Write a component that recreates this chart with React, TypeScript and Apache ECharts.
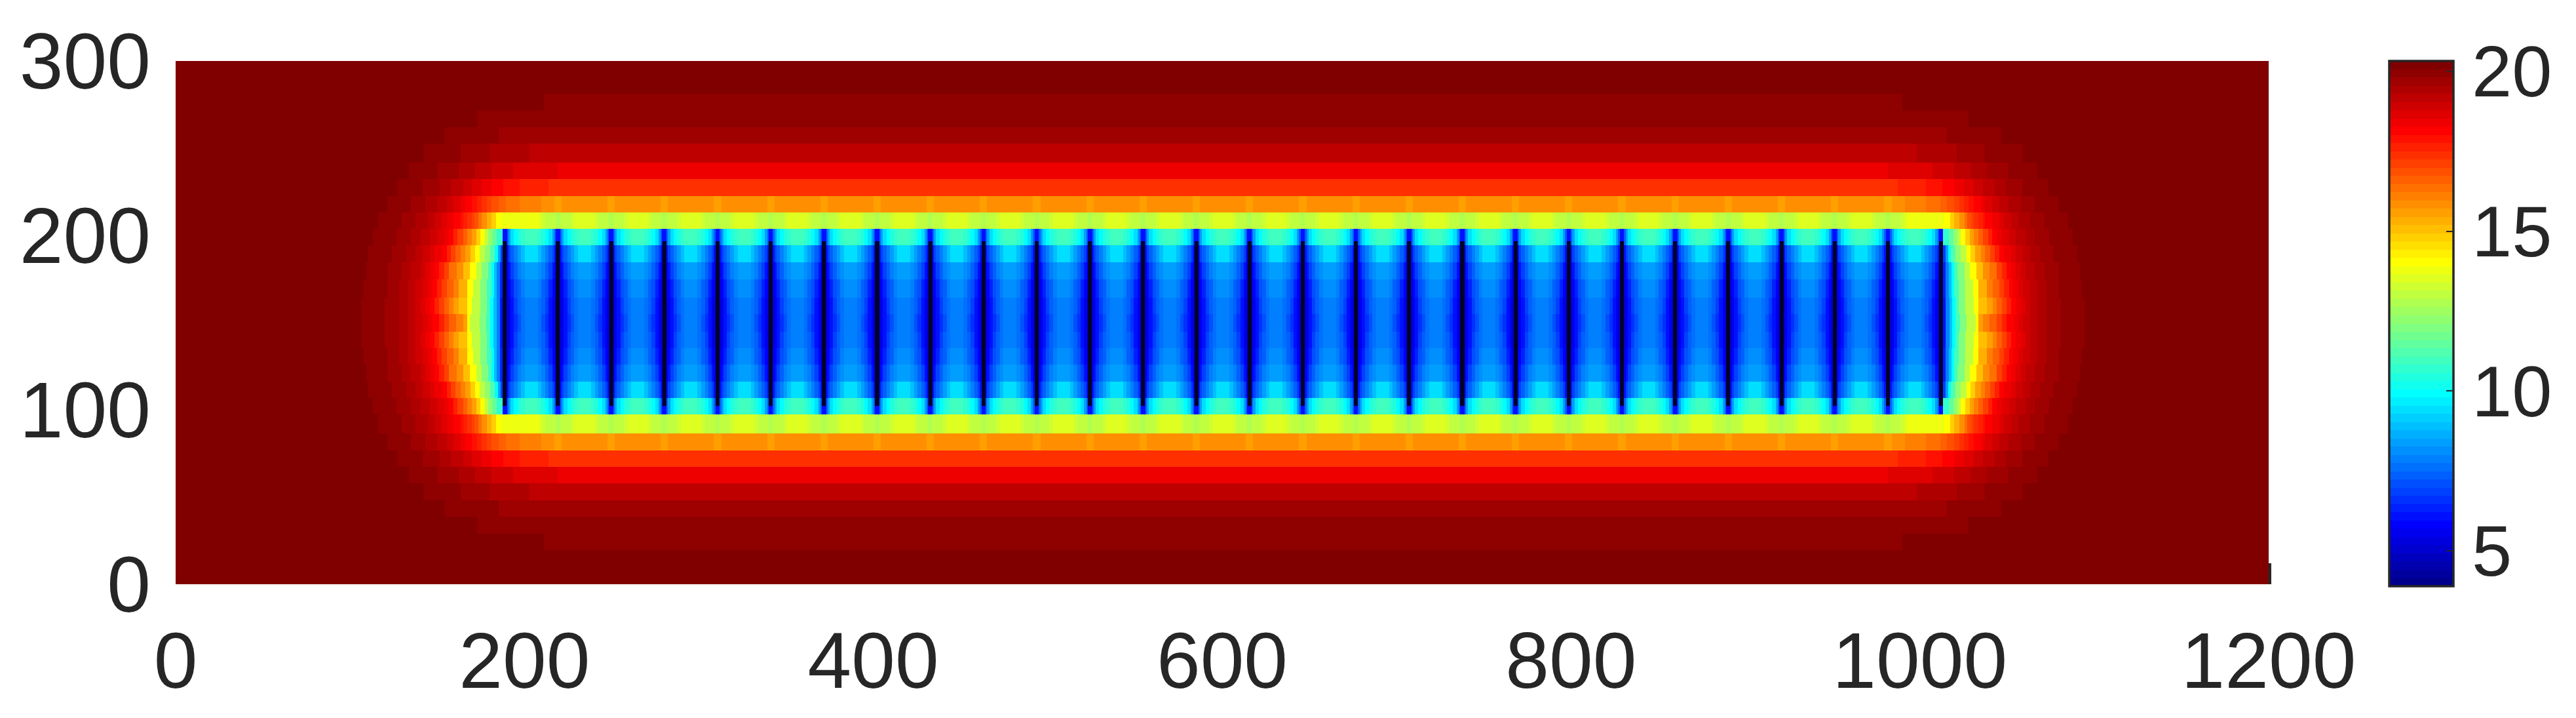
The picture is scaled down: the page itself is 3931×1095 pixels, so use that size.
import React, { useEffect, useRef } from "react";
import * as echarts from "echarts";

// Colour-scale limits and axis ticks
const valueMin = 3.89;
const valueMax = 20.32;
const xTicks = [0, 200, 400, 600, 800, 1000, 1200];
const yTicks = [0, 100, 200, 300];
const colorbarTicks = [5, 10, 15, 20];

// Horizontal row edges of the mesh (axis units, bottom to top)
const yEdges = [
  0, 9.8, 19.6, 29, 38.8, 48.2, 58, 67.4, 76.8, 86.6, 97.5, 106.9, 116.3, 126.1, 135.5, 144.9,
  154.7, 164.1, 175, 184.4, 194.2, 203.6, 213, 222.5, 232.2, 241.6, 252.6, 262, 271.8, 281.2, 290.6, 300,
];

// Plate centres (the dark vertical stripes)
const finCenters = [
  188.7, 219.2, 249.7, 280.2, 310.7, 341.2, 371.7, 402.2, 432.7, 463.2, 493.7, 524.2, 554.7, 585.2,
  615.7, 646.2, 676.7, 707.2, 737.7, 768.2, 798.7, 829.2, 859.7, 890.2, 920.7, 951.2, 981.7, 1012.2,
];
const finSpan = [102.4, 196.8];
const finHalfWidth = 1.15;
const mirrorSum = 1200.9;

// Cell edges of one half-period, measured from a plate centre
const periodEdges = [0, 1.25, 2.1, 3.3, 5.3, 7.3, 9.4, 11.5, 15.25];

// Left-end bands per row, outermost row first: [band's right edge, value]
const rowBands: number[][][] = [
  [],
  [],
  [[211, 20.3]],
  [[173, 20.3]],
  [[154.3, 20.3], [185.2, 20.06]],
  [[141.9, 20.3], [163.6, 20.06], [179.8, 19.8], [202.8, 19.55]],
  [[133.7, 20.3], [150, 20.06], [162.3, 19.8], [171.7, 19.55], [181.1, 19.29], [193.6, 19.03], [219.2, 18.78]],
  [[127, 20.3], [141.8, 20.06], [151.4, 19.8], [157.9, 19.55], [164.8, 19.29], [169.8, 19.03], [175.6, 18.78], [181.1, 18.5], [188, 18.27], [197.4, 18], [213.6, 17.75]],
  [[121.3, 20.3], [134.9, 20.06], [143.1, 19.8], [150, 19.55], [155.4, 19.29], [159.4, 19.03], [163.6, 18.78], [166, 18.5], [170, 18.27], [172.9, 18], [175.6, 17.75], [178.3, 17.5], [181.1, 17.24], [185.2, 17], [189.2, 16.72], [197.4, 16.46], [209.6, 16.2]],
  [[116, 20.3], [129.5, 20.06], [137.6, 19.8], [144.5, 19.55], [148.5, 19.29], [152.5, 19.03], [155.4, 18.78], [159.4, 18.5], [163.4, 18.27], [164.8, 18], [167.3, 17.75], [169.8, 17.5], [171.4, 17.24], [173.6, 17], [175.4, 16.46], [178.3, 15.96], [181.1, 15.44], [183.6, 14.92], [186.7, 14.15], [208.4, 13.9]],
  [[113.2, 20.3], [126.7, 20.06], [134.9, 19.8], [140.4, 19.55], [145.8, 19.29], [149.8, 19.03], [153.9, 18.78], [156.7, 18.5], [159.4, 18.27], [161.7, 17.75], [164.8, 17.24], [167.3, 16.72], [169.8, 16.2], [172.3, 15.7], [174.8, 14.92], [177.3, 14.15], [179.2, 13.13], [181.7, 12.4], [184.2, 11.6], [187.45, 10.8]],
  [[110.6, 20.3], [124.1, 20.06], [132.2, 19.8], [137.6, 19.55], [141.8, 19.29], [145.8, 19.03], [148.5, 18.78], [152.5, 18.5], [155.4, 18.27], [157.9, 17.75], [160.4, 17.24], [163.6, 16.72], [166, 16.2], [169.2, 15.7], [171.7, 14.92], [174.2, 14.15], [177.3, 13.13], [180.5, 12.4], [183, 11.3], [184.8, 10.05], [186.2, 8.5], [187.45, 7]],
  [[109.2, 20.3], [121.3, 20.06], [129.5, 19.8], [134.9, 19.55], [140.4, 19.29], [143.1, 19.03], [145.8, 18.78], [148.5, 18.5], [151, 18.27], [153.9, 17.75], [156.7, 17.24], [161, 16.46], [164.8, 15.96], [168.6, 15.18], [172.3, 14.15], [175.4, 13.13], [179.2, 12.1], [181.1, 11.07], [182.6, 10.05], [184.2, 9.02], [186, 7.99], [187.45, 6.5]],
  [[107.8, 20.3], [121.3, 20.06], [128.1, 19.8], [133.5, 19.55], [137.6, 19.29], [141.8, 19.03], [144.5, 18.78], [147.1, 18.5], [149.8, 18.27], [152.5, 17.75], [155.4, 17.24], [159.2, 16.72], [162.3, 16.2], [167.3, 15.44], [170.4, 14.15], [174.8, 13.13], [178.6, 12.1], [181.1, 11.07], [182.6, 10.05], [184.2, 9.02], [186, 7.99], [187.45, 6.4]],
  [[106.4, 20.3], [120, 20.06], [128.1, 19.8], [133.5, 19.55], [137.6, 19.29], [140.4, 19.03], [143.1, 18.78], [145.8, 18.5], [148.5, 18.27], [151, 17.75], [153.9, 17.24], [156.7, 16.72], [159.2, 16.2], [162.3, 15.7], [167.3, 15.18], [169.8, 14.15], [174.8, 13.13], [178.6, 12.1], [180.5, 11.07], [182.3, 10.05], [184, 9.02], [186, 7.99], [187.45, 6.3]],
  [[106.4, 20.3], [120, 20.06], [128.1, 19.8], [133.5, 19.55], [137.6, 19.29], [141.8, 19.03], [144.5, 18.78], [147.1, 18.5], [151, 18.27], [153.9, 17.75], [156.7, 17.24], [160.8, 16.72], [164.8, 16.2], [167.3, 15.7], [168.8, 14.15], [174.2, 13.13], [178, 12.1], [180.5, 11.07], [182.3, 10.05], [184, 9.02], [186, 7.99], [187.45, 6.3]],
];

// Values along the middle of each row: one value, or one half-period of cells
const rowMiddle: (number | number[])[] = [
  20.3,
  20.3,
  20.06,
  20.06,
  19.8,
  19.29,
  18.5,
  17.5,
  [15.7, 15.7, 15.96, 15.96, 15.96, 15.96, 15.96, 15.96],
  [13, 13.1, 13.13, 13.13, 13.25, 13.4, 13.65, 13.65],
  [6.1, 7.5, 8.5, 9.5, 10.05, 10.55, 10.85, 11.1],
  [5, 6.2, 7, 7.5, 8, 8.5, 9, 9.55],
  [5, 5.7, 6.3, 6.9, 7.5, 8, 8.25, 8.6],
  [5, 5.5, 5.9, 6.5, 7.1, 7.6, 8, 8.25],
  [5, 5.3, 5.8, 6.3, 6.9, 7.4, 7.8, 8],
  [5, 5.2, 5.6, 6.1, 6.7, 7.3, 7.7, 7.9],
];

const LEVELS = 64;
const clamp01 = (v: number) => Math.max(0, Math.min(1, v));
function jetColor(value: number): string {
  const level = Math.round(((value - valueMin) / (valueMax - valueMin)) * LEVELS);
  const t = Math.max(1, Math.min(LEVELS, level)) / LEVELS;
  const r = clamp01(Math.min(4 * t - 1.5, -4 * t + 4.5));
  const g = clamp01(Math.min(4 * t - 0.5, -4 * t + 3.5));
  const b = clamp01(Math.min(4 * t + 0.5, -4 * t + 2.5));
  return `rgb(${Math.round(r * 255)},${Math.round(g * 255)},${Math.round(b * 255)})`;
}

function buildCells(): number[][] {
  const cells: number[][] = [];
  for (let i = 0; i < yEdges.length - 1; i++) {
    const k = i <= 15 ? i : 30 - i;
    const y0 = yEdges[i];
    const y1 = yEdges[i + 1];
    let prev = 0;
    for (const [xEnd, v] of rowBands[k]) {
      cells.push([prev, xEnd, y0, y1, v]);
      cells.push([mirrorSum - xEnd, mirrorSum - prev, y0, y1, v]);
      prev = xEnd;
    }
    const from = prev;
    const to = mirrorSum - prev;
    const middle = rowMiddle[k];
    if (typeof middle === "number") {
      cells.push([from, to, y0, y1, middle]);
    } else {
      for (const c of finCenters) {
        middle.forEach((v, j) => {
          const spans = [
            [c + periodEdges[j], c + periodEdges[j + 1]],
            [c - periodEdges[j + 1], c - periodEdges[j]],
          ];
          for (const [a, b] of spans) {
            const x0 = Math.max(a, from);
            const x1 = Math.min(b, to);
            if (x1 > x0) cells.push([x0, x1, y0, y1, v]);
          }
        });
      }
    }
  }
  return cells;
}

function rectItem(params: any, api: any, fill: string) {
  const a = api.coord([api.value(0), api.value(2)]);
  const b = api.coord([api.value(1), api.value(3)]);
  const x = Math.round(Math.min(a[0], b[0]));
  const y = Math.round(Math.min(a[1], b[1]));
  const w = Math.round(Math.max(a[0], b[0])) - x;
  const h = Math.round(Math.max(a[1], b[1])) - y;
  return { type: "rect", shape: { x, y, width: w, height: h }, style: { fill } };
}

export default function App() {
  const ref = useRef<HTMLDivElement>(null);
  useEffect(() => {
    if (!ref.current) return;
    const chart = echarts.init(ref.current, undefined, { renderer: "svg" });
    const textColor = "#262626";
    const fontFamily = "Liberation Sans";
    const mainLabel = { color: textColor, fontFamily, fontSize: 120 };
    const barLabel = { color: textColor, fontFamily, fontSize: 110 };
    const plain = (v: number) => String(v);

    const finCells = finCenters.map((c) => [c - finHalfWidth, c + finHalfWidth, finSpan[0], finSpan[1], 0]);
    const barStep = (valueMax - valueMin) / LEVELS;
    const barCells: number[][] = [];
    for (let i = 0; i < LEVELS; i++) {
      const lo = valueMin + i * barStep;
      barCells.push([0, 1, lo, lo + barStep, lo + barStep]);
    }

    chart.setOption({
      animation: false,
      backgroundColor: "#ffffff",
      grid: [
        { left: 268, top: 93, width: 3194, height: 798 },
        { left: 3646, top: 93, width: 98, height: 801 },
      ],
      xAxis: [
        {
          type: "value", gridIndex: 0, min: 0, max: 1200, interval: 200,
          axisLine: { show: false }, axisTick: { show: false }, splitLine: { show: false },
          axisLabel: { ...mainLabel, margin: 56, formatter: plain, customValues: xTicks, showMinLabel: true, showMaxLabel: true, hideOverlap: false },
        },
        {
          type: "value", gridIndex: 1, min: 0, max: 1,
          axisLine: { show: false }, axisTick: { show: false }, splitLine: { show: false }, axisLabel: { show: false },
        },
      ],
      yAxis: [
        {
          type: "value", gridIndex: 0, min: 0, max: 300, interval: 100,
          axisLine: { show: false }, axisTick: { show: false }, splitLine: { show: false },
          axisLabel: { ...mainLabel, margin: 38, formatter: plain, customValues: yTicks, showMinLabel: true, showMaxLabel: true, hideOverlap: false },
        },
        {
          type: "value", gridIndex: 1, position: "right", min: valueMin, max: valueMax, z: 5,
          axisLine: { show: false, onZero: false },
          splitLine: { show: false },
          axisTick: { show: true, inside: true, length: 11, lineStyle: { color: textColor, width: 2 }, customValues: colorbarTicks },
          axisLabel: { ...barLabel, margin: 28, align: "left", formatter: plain, customValues: colorbarTicks, hideOverlap: false },
        },
      ],
      series: [
        {
          type: "custom", xAxisIndex: 0, yAxisIndex: 0, coordinateSystem: "cartesian2d", silent: true,
          clip: true, progressive: 0, z: 1,
          encode: { x: [0, 1], y: [2, 3] },
          data: buildCells(),
          renderItem: (params: any, api: any) => rectItem(params, api, jetColor(api.value(4))),
        },
        {
          type: "custom", xAxisIndex: 0, yAxisIndex: 0, coordinateSystem: "cartesian2d", silent: true,
          clip: true, progressive: 0, z: 2,
          encode: { x: [0, 1], y: [2, 3] },
          data: finCells,
          renderItem: (params: any, api: any) => rectItem(params, api, "#00002a"),
        },
        {
          type: "custom", xAxisIndex: 1, yAxisIndex: 1, coordinateSystem: "cartesian2d", silent: true,
          clip: true, progressive: 0, z: 1,
          encode: { x: [0, 1], y: [2, 3] },
          data: barCells,
          renderItem: (params: any, api: any) => rectItem(params, api, jetColor(api.value(4))),
        },
      ],
      graphic: [
        { type: "rect", z: 100, shape: { x: 3646, y: 93, width: 98, height: 801 }, style: { fill: "none", stroke: textColor, lineWidth: 3.5 } },
        { type: "rect", z: 100, shape: { x: 3462, y: 859, width: 4, height: 32 }, style: { fill: textColor } },
      ],
    });
    return () => chart.dispose();
  }, []);
  return <div ref={ref} style={{ position: "fixed", left: 0, top: 0, width: 3931, height: 1095 }} />;
}
